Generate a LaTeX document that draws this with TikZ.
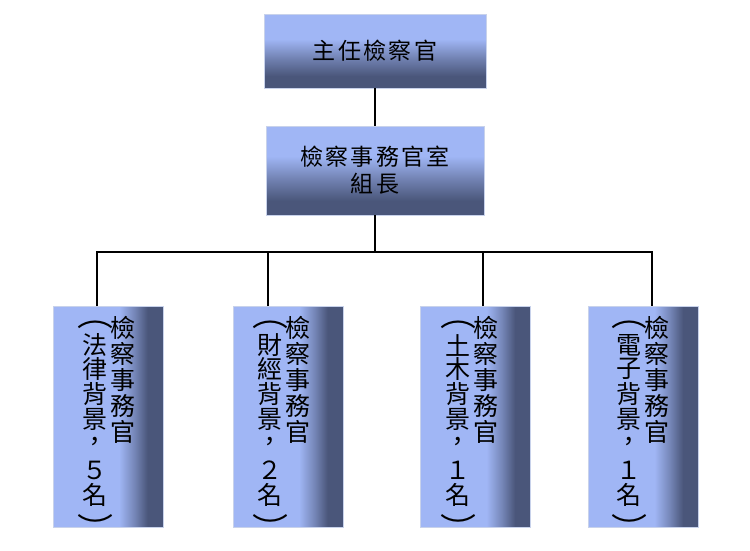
\documentclass[tikz,border=0pt]{standalone}
\usepackage{fontspec}
\newfontfamily\cjk{Noto Sans CJK TC}
\newfontfamily\cjksp[LetterSpace=10]{Noto Sans CJK TC}
\definecolor{lightc}{RGB}{160,182,245}
\definecolor{darkc}{RGB}{74,86,122}
\definecolor{edgec}{RGB}{200,210,235}
\pgfdeclareverticalshading{vshade}{100bp}{color(0bp)=(darkc); color(33bp)=(darkc); color(45bp)=(darkc!55!lightc); color(58bp)=(lightc); color(100bp)=(lightc)}
\pgfdeclarehorizontalshading{hshade}{100bp}{color(0bp)=(lightc); color(55bp)=(lightc); color(62bp)=(darkc!50!lightc); color(68bp)=(darkc); color(100bp)=(darkc)}
\tikzset{
  topbox/.style={shading=vshade, draw=edgec, line width=0.6pt, inner sep=0pt, align=center,
    font=\cjksp\fontsize{23}{27}\selectfont},
  childbox/.style={shading=hshade, draw=edgec, line width=0.6pt, minimum width=110pt, minimum height=221pt, inner sep=0pt},
  chr/.style={inner sep=0pt, font=\cjk\fontsize{25}{26}\selectfont},
  paren/.style={inner sep=0pt, font=\cjk\fontsize{30}{30}\selectfont, xscale=1.2},
  link/.style={line width=1.5pt, draw=black}
}
\begin{document}
\begin{tikzpicture}[x=1pt,y=-1pt]
\useasboundingbox (0,0) rectangle (750,550);
% top boxes
\node[topbox, minimum width=222pt, minimum height=74pt] (b1) at (375,51) {主任檢察官};
\node[topbox, minimum width=218pt, minimum height=89pt] (b2) at (375,170.5) {檢察事務官室\\組長};
% children boxes
\node[childbox] (c1) at (108,416.5) {};
\node[childbox] (c2) at (288,416.5) {};
\node[childbox] (c3) at (475.5,416.5) {};
\node[childbox] (c4) at (643.5,416.5) {};
% texts in children
\foreach \k/\xr/\xl/\fa/\fb/\num in {1/123/95/法/律/５, 2/298/270/財/經/２, 3/486/458/土/木/１, 4/657/629/電/子/１}{
  \foreach \ch [count=\i from 0] in {檢,察,事,務,官}
    \node[chr] (r\k-\i) at (\xr, 328+26*\i) {\ch};
  \node[paren] (lo\k) at (\xl, 325) {︵};
  \foreach \ch/\yy [count=\i from 1] in {\fa/345, \fb/369, 背/394, 景/419, ，/444, \num/470, 名/495}
    \node[chr] (l\k-\i) at (\xl, \yy) {\ch};
  \node[paren] (lc\k) at (\xl, 527) {︶};
}
% connectors
\coordinate (j) at (375,252);
\coordinate (t1) at (97,306);
\coordinate (t2) at (268,306);
\coordinate (t3) at (483,306);
\coordinate (t4) at (652,306);
\draw[link] (b1.south) -- (b2.north);
\draw[link] (b2.south) -- (j);
\draw[link] (t1) |- (j) -| (t4);
\draw[link] (t2) -- (t2 |- j);
\draw[link] (t3) -- (t3 |- j);
\end{tikzpicture}
\end{document}
